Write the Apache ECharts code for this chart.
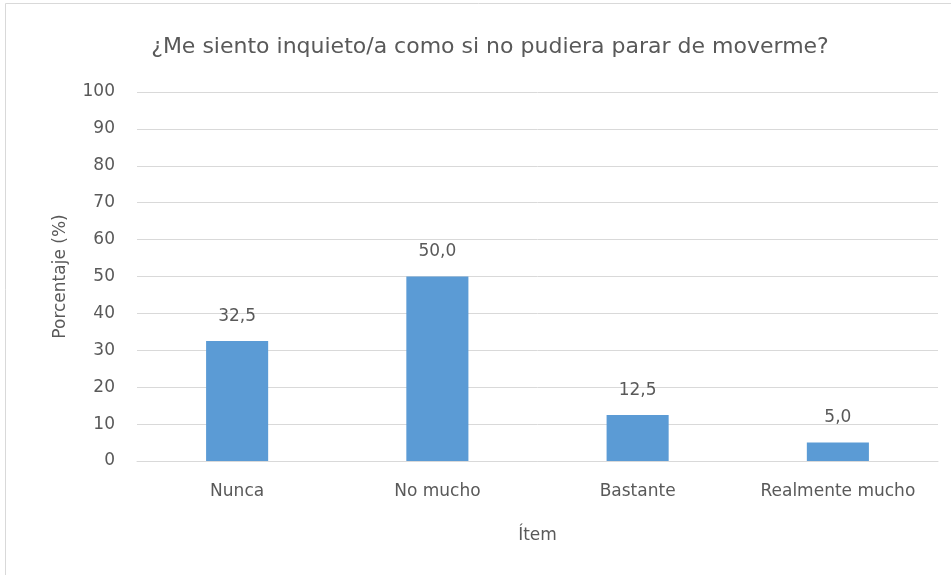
<!DOCTYPE html>
<html><head><meta charset="utf-8">
<script src="https://cdn.jsdelivr.net/npm/echarts@6/dist/echarts.min.js"></script>
<style>html,body{margin:0;padding:0;background:#fff}#c{width:951px;height:575px}</style>
</head><body><div id="c"></div>
<script>
const categories = ['Nunca', 'No mucho', 'Bastante', 'Realmente mucho'];
const values = [32.5, 50.0, 12.5, 5.0];
const yTicks = [0, 10, 20, 30, 40, 50, 60, 70, 80, 90, 100];
const titleText = '¿Me siento inquieto/a como si no pudiera parar de moverme?';
const txt = '#595959';
const font = "'DejaVu Sans', sans-serif";
const chart = echarts.init(document.getElementById('c'));
chart.setOption({
  animation: false,
  graphic: [{type: 'rect', shape: {x: 5.5, y: 3.5, width: 960, height: 600}, style: {fill: 'none', stroke: '#d9d9d9', lineWidth: 1}, silent: true}],
  title: {text: titleText, left: 485, top: 31, textAlign: 'center',
    textStyle: {color: txt, fontSize: 22, fontWeight: 'normal', fontFamily: font}},
  grid: {left: 137, right: 13, top: 92, bottom: 114},
  xAxis: {type: 'category', data: categories,
    axisLine: {lineStyle: {color: '#d9d9d9'}}, axisTick: {show: false},
    axisLabel: {color: txt, fontSize: 17, fontFamily: font, margin: 22, interval: 0},
    name: 'Ítem', nameLocation: 'middle', nameGap: 66,
    nameTextStyle: {color: txt, fontSize: 17, fontFamily: font}},
  yAxis: {type: 'value', min: yTicks[0], max: yTicks[yTicks.length - 1], interval: 10,
    axisLine: {show: false}, axisTick: {show: false},
    splitLine: {lineStyle: {color: '#d9d9d9'}},
    axisLabel: {color: txt, fontSize: 17, fontFamily: font, margin: 22},
    name: 'Porcentaje (%)', nameLocation: 'middle', nameGap: 68,
    nameTextStyle: {color: txt, fontSize: 17, fontFamily: font}},
  series: [{type: 'bar', data: values, barWidth: '31%',
    itemStyle: {color: '#5B9BD5'},
    label: {show: true, position: 'top', distance: 16, color: txt, fontSize: 17, fontFamily: font,
      formatter: p => p.value.toFixed(1).replace('.', ',')}}]
});
</script></body></html>
